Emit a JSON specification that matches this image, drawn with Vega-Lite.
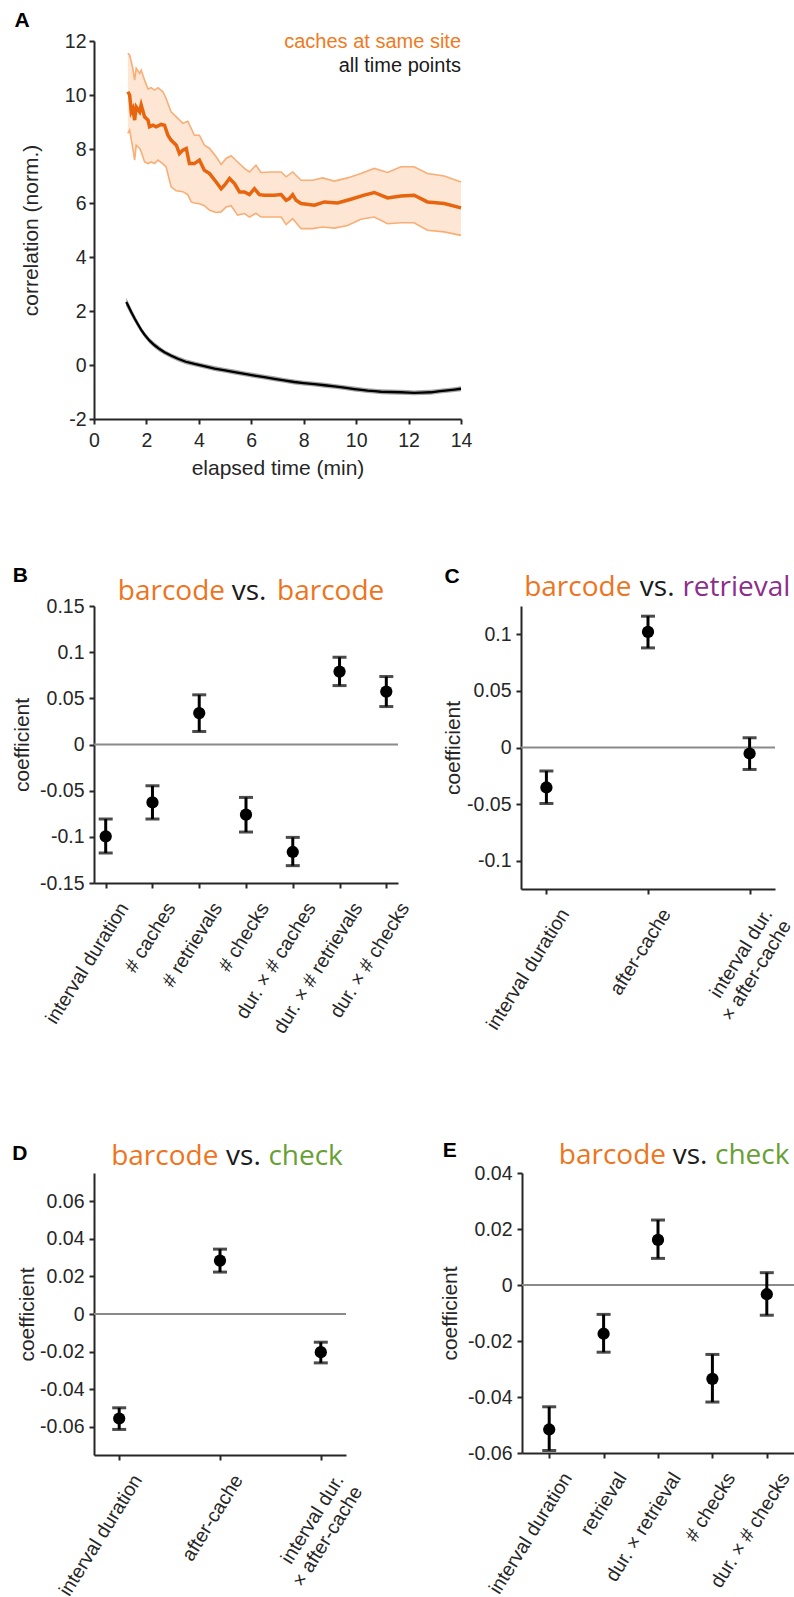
{
  "$schema": "https://vega.github.io/schema/vega-lite/v6.json",
  "background": "white",
  "padding": {"left": 11, "top": 9, "right": 0, "bottom": 0},
  "config": {
    "view": {"stroke": null},
    "axis": {
      "domainColor": "#262626", "domainWidth": 2,
      "tickColor": "#262626", "tickWidth": 2, "tickSize": 5,
      "labelColor": "#262626", "labelFont": "Liberation Sans", "labelFontSize": 19.5,
      "titleFont": "Liberation Sans", "titleFontSize": 21, "titleFontWeight": "normal", "titleColor": "#262626",
      "grid": false, "labelOverlap": false, "labelFlush": false
    },
    "text": {"font": "Liberation Sans"}
  },
  "datasets": {
    "cacheMean": [
      {"t": 1.29, "v": 10.12}, {"t": 1.36, "v": 10.0}, {"t": 1.42, "v": 9.38}, {"t": 1.48, "v": 9.5},
      {"t": 1.55, "v": 9.07}, {"t": 1.61, "v": 9.56}, {"t": 1.74, "v": 9.38}, {"t": 1.8, "v": 9.63},
      {"t": 1.93, "v": 9.19}, {"t": 2.06, "v": 9.07}, {"t": 2.12, "v": 8.82}, {"t": 2.25, "v": 8.88},
      {"t": 2.37, "v": 8.82}, {"t": 2.56, "v": 8.91}, {"t": 2.69, "v": 8.88}, {"t": 2.82, "v": 8.51},
      {"t": 2.94, "v": 8.33}, {"t": 3.14, "v": 8.14}, {"t": 3.26, "v": 7.83}, {"t": 3.39, "v": 7.96},
      {"t": 3.52, "v": 8.02}, {"t": 3.64, "v": 7.46}, {"t": 3.83, "v": 7.46}, {"t": 4.02, "v": 7.59},
      {"t": 4.21, "v": 7.21}, {"t": 4.41, "v": 7.09}, {"t": 4.66, "v": 6.78}, {"t": 4.85, "v": 6.53},
      {"t": 4.98, "v": 6.66}, {"t": 5.17, "v": 6.91}, {"t": 5.36, "v": 6.72}, {"t": 5.55, "v": 6.41},
      {"t": 5.74, "v": 6.41}, {"t": 5.93, "v": 6.31}, {"t": 6.12, "v": 6.53}, {"t": 6.31, "v": 6.31},
      {"t": 6.5, "v": 6.29}, {"t": 6.88, "v": 6.29}, {"t": 7.14, "v": 6.31}, {"t": 7.33, "v": 6.1},
      {"t": 7.45, "v": 6.16}, {"t": 7.58, "v": 6.31}, {"t": 7.71, "v": 6.1}, {"t": 7.9, "v": 5.98},
      {"t": 8.41, "v": 5.92}, {"t": 8.79, "v": 6.04}, {"t": 9.29, "v": 6.0}, {"t": 9.8, "v": 6.14},
      {"t": 10.31, "v": 6.29}, {"t": 10.69, "v": 6.39}, {"t": 11.2, "v": 6.19}, {"t": 11.71, "v": 6.26},
      {"t": 12.21, "v": 6.29}, {"t": 12.72, "v": 6.04}, {"t": 13.36, "v": 5.98}, {"t": 14.0, "v": 5.82}
    ],
    "cacheBand": [
      {"t": 1.29, "lo": 8.58, "hi": 11.54}, {"t": 1.36, "lo": 8.7, "hi": 11.48}, {"t": 1.48, "lo": 8.02, "hi": 10.99},
      {"t": 1.55, "lo": 7.59, "hi": 10.55}, {"t": 1.61, "lo": 8.14, "hi": 10.99}, {"t": 1.74, "lo": 8.02, "hi": 10.8},
      {"t": 1.8, "lo": 7.9, "hi": 10.92}, {"t": 1.93, "lo": 7.52, "hi": 10.55}, {"t": 2.06, "lo": 7.46, "hi": 10.22},
      {"t": 2.18, "lo": 7.52, "hi": 10.27}, {"t": 2.31, "lo": 7.46, "hi": 10.18}, {"t": 2.44, "lo": 7.59, "hi": 10.27},
      {"t": 2.63, "lo": 7.45, "hi": 10.12}, {"t": 2.75, "lo": 7.34, "hi": 9.87}, {"t": 2.94, "lo": 6.6, "hi": 9.38},
      {"t": 3.14, "lo": 6.45, "hi": 9.19}, {"t": 3.39, "lo": 6.42, "hi": 8.95}, {"t": 3.58, "lo": 6.3, "hi": 9.03},
      {"t": 3.71, "lo": 6.04, "hi": 8.76}, {"t": 3.83, "lo": 6.0, "hi": 8.51}, {"t": 4.02, "lo": 5.97, "hi": 8.51},
      {"t": 4.21, "lo": 5.9, "hi": 8.14}, {"t": 4.41, "lo": 5.73, "hi": 8.02}, {"t": 4.66, "lo": 5.65, "hi": 7.71},
      {"t": 4.85, "lo": 5.67, "hi": 7.43}, {"t": 5.04, "lo": 5.85, "hi": 7.65}, {"t": 5.23, "lo": 5.9, "hi": 7.75},
      {"t": 5.48, "lo": 5.55, "hi": 7.52}, {"t": 5.74, "lo": 5.61, "hi": 7.28}, {"t": 5.93, "lo": 5.48, "hi": 7.15},
      {"t": 6.18, "lo": 5.62, "hi": 7.4}, {"t": 6.37, "lo": 5.48, "hi": 7.13}, {"t": 6.75, "lo": 5.48, "hi": 7.15},
      {"t": 7.14, "lo": 5.48, "hi": 7.15}, {"t": 7.33, "lo": 5.2, "hi": 6.97}, {"t": 7.58, "lo": 5.42, "hi": 7.15},
      {"t": 7.9, "lo": 5.05, "hi": 6.84}, {"t": 8.34, "lo": 5.05, "hi": 6.84}, {"t": 8.72, "lo": 5.11, "hi": 6.93},
      {"t": 9.17, "lo": 5.07, "hi": 6.81}, {"t": 9.67, "lo": 5.17, "hi": 6.93}, {"t": 10.18, "lo": 5.4, "hi": 7.09},
      {"t": 10.69, "lo": 5.48, "hi": 7.28}, {"t": 11.2, "lo": 5.23, "hi": 7.13}, {"t": 11.71, "lo": 5.27, "hi": 7.34},
      {"t": 12.21, "lo": 5.27, "hi": 7.34}, {"t": 12.72, "lo": 4.99, "hi": 7.09}, {"t": 13.36, "lo": 4.93, "hi": 7.0},
      {"t": 14.0, "lo": 4.8, "hi": 6.78}
    ],
    "allPoints": [
      {"t": 1.23, "v": 2.33, "lo": 2.17, "hi": 2.49}, {"t": 1.3, "v": 2.2, "lo": 2.05, "hi": 2.35},
      {"t": 1.42, "v": 1.96, "lo": 1.82, "hi": 2.1}, {"t": 1.55, "v": 1.72, "lo": 1.59, "hi": 1.85},
      {"t": 1.68, "v": 1.5, "lo": 1.38, "hi": 1.62}, {"t": 1.8, "v": 1.3, "lo": 1.19, "hi": 1.41},
      {"t": 1.93, "v": 1.12, "lo": 1.02, "hi": 1.22}, {"t": 2.12, "v": 0.9, "lo": 0.8, "hi": 1.0},
      {"t": 2.31, "v": 0.73, "lo": 0.63, "hi": 0.83}, {"t": 2.5, "v": 0.59, "lo": 0.49, "hi": 0.69},
      {"t": 2.69, "v": 0.47, "lo": 0.38, "hi": 0.56}, {"t": 2.95, "v": 0.34, "lo": 0.25, "hi": 0.43},
      {"t": 3.2, "v": 0.23, "lo": 0.14, "hi": 0.32}, {"t": 3.5, "v": 0.12, "lo": 0.03, "hi": 0.21},
      {"t": 3.83, "v": 0.04, "lo": -0.05, "hi": 0.13}, {"t": 4.2, "v": -0.04, "lo": -0.13, "hi": 0.05},
      {"t": 4.6, "v": -0.13, "lo": -0.22, "hi": -0.04}, {"t": 5.0, "v": -0.2, "lo": -0.29, "hi": -0.11},
      {"t": 5.36, "v": -0.26, "lo": -0.35, "hi": -0.17}, {"t": 5.75, "v": -0.33, "lo": -0.42, "hi": -0.24},
      {"t": 6.12, "v": -0.39, "lo": -0.48, "hi": -0.3}, {"t": 6.5, "v": -0.45, "lo": -0.54, "hi": -0.36},
      {"t": 6.88, "v": -0.51, "lo": -0.6, "hi": -0.42}, {"t": 7.25, "v": -0.57, "lo": -0.66, "hi": -0.48},
      {"t": 7.64, "v": -0.63, "lo": -0.72, "hi": -0.54}, {"t": 8.0, "v": -0.67, "lo": -0.76, "hi": -0.58},
      {"t": 8.41, "v": -0.71, "lo": -0.8, "hi": -0.62}, {"t": 8.8, "v": -0.75, "lo": -0.84, "hi": -0.66},
      {"t": 9.17, "v": -0.79, "lo": -0.88, "hi": -0.7}, {"t": 9.55, "v": -0.84, "lo": -0.93, "hi": -0.75},
      {"t": 9.93, "v": -0.89, "lo": -0.98, "hi": -0.8}, {"t": 10.2, "v": -0.92, "lo": -1.01, "hi": -0.83},
      {"t": 10.44, "v": -0.95, "lo": -1.04, "hi": -0.86}, {"t": 10.7, "v": -0.97, "lo": -1.06, "hi": -0.88},
      {"t": 10.95, "v": -0.99, "lo": -1.08, "hi": -0.9}, {"t": 11.3, "v": -1.0, "lo": -1.09, "hi": -0.91},
      {"t": 11.71, "v": -1.01, "lo": -1.1, "hi": -0.92}, {"t": 12.0, "v": -1.02, "lo": -1.11, "hi": -0.93},
      {"t": 12.21, "v": -1.03, "lo": -1.12, "hi": -0.94}, {"t": 12.5, "v": -1.02, "lo": -1.11, "hi": -0.93},
      {"t": 12.85, "v": -1.01, "lo": -1.1, "hi": -0.92}, {"t": 13.2, "v": -0.97, "lo": -1.06, "hi": -0.88},
      {"t": 13.49, "v": -0.94, "lo": -1.03, "hi": -0.85}, {"t": 13.75, "v": -0.91, "lo": -1.0, "hi": -0.82},
      {"t": 14.0, "v": -0.88, "lo": -0.97, "hi": -0.79}
    ],
    "coefB": [
      {"term": "interval duration", "coef": -0.0995, "lo": -0.1175, "hi": -0.0807},
      {"term": "# caches", "coef": -0.0627, "lo": -0.0807, "hi": -0.0447},
      {"term": "# retrievals", "coef": 0.034, "lo": 0.0141, "hi": 0.0538},
      {"term": "# checks", "coef": -0.076, "lo": -0.0948, "hi": -0.0573},
      {"term": "dur. × # caches", "coef": -0.1164, "lo": -0.1312, "hi": -0.1006},
      {"term": "dur. × # retrievals", "coef": 0.079, "lo": 0.0638, "hi": 0.0945},
      {"term": "dur. × # checks", "coef": 0.0573, "lo": 0.0411, "hi": 0.0736}
    ],
    "coefC": [
      {"term": "interval duration", "coef": -0.0353, "lo": -0.0494, "hi": -0.0208},
      {"term": "after-cache", "coef": 0.1021, "lo": 0.088, "hi": 0.116},
      {"term": "interval dur.\u00a0\u00a0|× after-cache", "coef": -0.0053, "lo": -0.0194, "hi": 0.0086}
    ],
    "coefD": [
      {"term": "interval duration", "coef": -0.0556, "lo": -0.0614, "hi": -0.0499},
      {"term": "after-cache", "coef": 0.0284, "lo": 0.0223, "hi": 0.0345},
      {"term": "interval dur.\u00a0\u00a0|× after-cache", "coef": -0.0203, "lo": -0.026, "hi": -0.015}
    ],
    "coefE": [
      {"term": "interval duration", "coef": -0.0516, "lo": -0.0591, "hi": -0.0435},
      {"term": "retrieval", "coef": -0.0174, "lo": -0.024, "hi": -0.0105},
      {"term": "dur. × retrieval", "coef": 0.0161, "lo": 0.0095, "hi": 0.0232},
      {"term": "# checks", "coef": -0.0335, "lo": -0.0418, "hi": -0.0248},
      {"term": "dur. × # checks", "coef": -0.0033, "lo": -0.0108, "hi": 0.0044}
    ]
  },
  "spacing": 85,
  "vconcat": [
    {
      "width": 367,
      "height": 378,
      "layer": [
        {
          "data": {"name": "cacheBand"},
          "mark": {"type": "area", "color": "#FDE6D4", "opacity": 1},
          "encoding": {
            "x": {"field": "t", "type": "quantitative", "scale": {"domain": [0, 14], "nice": false, "zero": false},
                  "axis": {"values": [0, 2, 4, 6, 8, 10, 12, 14], "title": "elapsed time (min)", "labelPadding": 7, "titlePadding": 8}},
            "y": {"field": "lo", "type": "quantitative", "title": "correlation (norm.)",
                  "scale": {"domain": [-2, 12], "nice": false, "zero": false},
                  "axis": {"values": [-2, 0, 2, 4, 6, 8, 10, 12], "titlePadding": 23, "labelPadding": 3,
                           "labelExpr": "replace(datum.label, '−', '-')"}},
            "y2": {"field": "hi"}
          }
        },
        {
          "data": {"name": "cacheBand"},
          "mark": {"type": "line", "color": "#F8AE76", "strokeWidth": 1.6},
          "encoding": {
            "x": {"field": "t", "type": "quantitative", "title": "elapsed time (min)"},
            "y": {"field": "hi", "type": "quantitative", "title": "correlation (norm.)"}
          }
        },
        {
          "data": {"name": "cacheBand"},
          "mark": {"type": "line", "color": "#F8AE76", "strokeWidth": 1.6},
          "encoding": {
            "x": {"field": "t", "type": "quantitative", "title": "elapsed time (min)"},
            "y": {"field": "lo", "type": "quantitative", "title": "correlation (norm.)"}
          }
        },
        {
          "data": {"name": "allPoints"},
          "mark": {"type": "area", "color": "#8f8f8f", "opacity": 0.8},
          "encoding": {
            "x": {"field": "t", "type": "quantitative", "title": "elapsed time (min)"},
            "y": {"field": "lo", "type": "quantitative", "title": "correlation (norm.)"},
            "y2": {"field": "hi"}
          }
        },
        {
          "data": {"name": "allPoints"},
          "mark": {"type": "line", "color": "#000000", "strokeWidth": 2.3},
          "encoding": {
            "x": {"field": "t", "type": "quantitative", "title": "elapsed time (min)"},
            "y": {"field": "v", "type": "quantitative", "title": "correlation (norm.)"}
          }
        },
        {
          "data": {"name": "cacheMean"},
          "mark": {"type": "line", "color": "#E8650F", "strokeWidth": 3.5},
          "encoding": {
            "x": {"field": "t", "type": "quantitative", "title": "elapsed time (min)"},
            "y": {"field": "v", "type": "quantitative", "title": "correlation (norm.)"}
          }
        },
        {
          "data": {"values": [{"label": "caches at same site"}]},
          "mark": {"type": "text", "align": "right", "baseline": "alphabetic", "fontSize": 20, "color": "#F07A22", "dy": 6.7},
          "encoding": {
            "x": {"datum": 14, "type": "quantitative", "title": "elapsed time (min)"},
            "y": {"datum": 12, "type": "quantitative", "title": "correlation (norm.)"},
            "text": {"field": "label"}
          }
        },
        {
          "data": {"values": [{"label": "all time points"}]},
          "mark": {"type": "text", "align": "right", "baseline": "alphabetic", "fontSize": 20, "color": "#1a1a1a", "dy": 30.7},
          "encoding": {
            "x": {"datum": 14, "type": "quantitative", "title": "elapsed time (min)"},
            "y": {"datum": 12, "type": "quantitative", "title": "correlation (norm.)"},
            "text": {"field": "label"}
          }
        },
        {
          "data": {"values": [{"label": "A"}]},
          "mark": {"type": "text", "align": "left", "baseline": "alphabetic", "fontSize": 21, "fontWeight": "bold", "color": "#000000", "dx": -79.4, "dy": -14.3},
          "encoding": {
            "x": {"datum": 0, "type": "quantitative", "title": "elapsed time (min)"},
            "y": {"datum": 12, "type": "quantitative", "title": "correlation (norm.)"},
            "text": {"field": "label"}
          }
        }
      ]
    },
    {
      "spacing": 103,
      "vconcat": [
        {
          "spacing": 29,
          "hconcat": [
            {
              "width": 304,
              "height": 277,
              "layer": [
                {
                  "data": {"values": [{"level": 0}]},
                  "mark": {"type": "rule", "color": "#8a8a8a", "strokeWidth": 1.8},
                  "encoding": {"y": {"field": "level", "type": "quantitative", "title": "coefficient"}}
                },
                {
                  "data": {"name": "coefB"},
                  "mark": {"type": "rule", "color": "#000000", "strokeWidth": 3},
                  "encoding": {
                    "x": {"field": "term", "type": "nominal",
                          "scale": {"type": "point", "padding": 0.25, "domain": ["interval duration", "# caches", "# retrievals", "# checks", "dur. × # caches", "dur. × # retrievals", "dur. × # checks"]},
                          "axis": {"title": null, "labelAngle": -58, "labelAlign": "right", "labelBaseline": "middle", "labelOffset": 18, "labelPadding": 16, "labelLimit": 400, "labelExpr": "split(datum.label, '|')", "labelLineHeight": 22}},
                    "y": {"field": "lo", "type": "quantitative", "title": "coefficient",
                          "scale": {"domain": [-0.15, 0.15], "nice": false, "zero": false},
                          "axis": {"values": [-0.15, -0.1, -0.05, 0, 0.05, 0.1, 0.15], "labelExpr": "replace(format(datum.value, '.2~f'), '−', '-')", "titlePadding": 7, "labelPadding": 5}},
                    "y2": {"field": "hi"}
                  }
                },
                {
                  "data": {"name": "coefB"},
                  "mark": {"type": "tick", "color": "#000000", "thickness": 3, "size": 14},
                  "encoding": {"x": {"field": "term", "type": "nominal"}, "y": {"field": "lo", "type": "quantitative", "title": "coefficient"}}
                },
                {
                  "data": {"name": "coefB"},
                  "mark": {"type": "tick", "color": "#000000", "thickness": 3, "size": 14},
                  "encoding": {"x": {"field": "term", "type": "nominal"}, "y": {"field": "hi", "type": "quantitative", "title": "coefficient"}}
                },
                {
                  "data": {"name": "coefB"},
                  "mark": {"type": "circle", "color": "#000000", "size": 150, "opacity": 1},
                  "encoding": {"x": {"field": "term", "type": "nominal"}, "y": {"field": "coef", "type": "quantitative", "title": "coefficient"}}
                },
                {
                  "data": {"values": [{"label": "barcode"}]},
                  "mark": {"type": "text", "font": "Open Sans", "fontSize": 28, "color": "#EE7420", "align": "right", "baseline": "alphabetic", "dx": -21, "dy": -6},
                  "encoding": {"x": {"datum": "# checks"}, "y": {"datum": 0.15, "type": "quantitative", "title": "coefficient"}, "text": {"field": "label"}}
                },
                {
                  "data": {"values": [{"label": "vs."}]},
                  "mark": {"type": "text", "font": "Open Sans", "fontSize": 28, "color": "#1a1a1a", "align": "center", "baseline": "alphabetic", "dx": 3, "dy": -6},
                  "encoding": {"x": {"datum": "# checks"}, "y": {"datum": 0.15, "type": "quantitative", "title": "coefficient"}, "text": {"field": "label"}}
                },
                {
                  "data": {"values": [{"label": "barcode"}]},
                  "mark": {"type": "text", "font": "Open Sans", "fontSize": 28, "color": "#EE7420", "align": "left", "baseline": "alphabetic", "dx": 31, "dy": -6},
                  "encoding": {"x": {"datum": "# checks"}, "y": {"datum": 0.15, "type": "quantitative", "title": "coefficient"}, "text": {"field": "label"}}
                },
                {
                  "data": {"values": [{"label": "B"}]},
                  "mark": {"type": "text", "fontSize": 21, "fontWeight": "bold", "color": "#000000", "align": "left", "baseline": "alphabetic", "dx": -93, "dy": -24.3},
                  "encoding": {"x": {"datum": "interval duration"}, "y": {"datum": 0.15, "type": "quantitative", "title": "coefficient"}, "text": {"field": "label"}}
                }
              ]
            },
            {
              "width": 254,
              "height": 283,
              "layer": [
                {
                  "data": {"values": [{"level": 0}]},
                  "mark": {"type": "rule", "color": "#8a8a8a", "strokeWidth": 1.8},
                  "encoding": {"y": {"field": "level", "type": "quantitative", "title": "coefficient"}}
                },
                {
                  "data": {"name": "coefC"},
                  "mark": {"type": "rule", "color": "#000000", "strokeWidth": 3},
                  "encoding": {
                    "x": {"field": "term", "type": "nominal",
                          "scale": {"type": "point", "padding": 0.25, "domain": ["interval duration", "after-cache", "interval dur.\u00a0\u00a0|× after-cache"]},
                          "axis": {"title": null, "labelAngle": -58, "labelAlign": "right", "labelBaseline": "middle", "labelOffset": 18, "labelPadding": 16, "labelLimit": 400, "labelExpr": "split(datum.label, '|')", "labelLineHeight": 22}},
                    "y": {"field": "lo", "type": "quantitative", "title": "coefficient",
                          "scale": {"domain": [-0.125, 0.125], "nice": false, "zero": false},
                          "axis": {"values": [-0.1, -0.05, 0, 0.05, 0.1], "labelExpr": "replace(format(datum.value, '.2~f'), '−', '-')", "titlePadding": 3, "labelPadding": 5}},
                    "y2": {"field": "hi"}
                  }
                },
                {
                  "data": {"name": "coefC"},
                  "mark": {"type": "tick", "color": "#000000", "thickness": 3, "size": 14},
                  "encoding": {"x": {"field": "term", "type": "nominal"}, "y": {"field": "lo", "type": "quantitative", "title": "coefficient"}}
                },
                {
                  "data": {"name": "coefC"},
                  "mark": {"type": "tick", "color": "#000000", "thickness": 3, "size": 14},
                  "encoding": {"x": {"field": "term", "type": "nominal"}, "y": {"field": "hi", "type": "quantitative", "title": "coefficient"}}
                },
                {
                  "data": {"name": "coefC"},
                  "mark": {"type": "circle", "color": "#000000", "size": 150, "opacity": 1},
                  "encoding": {"x": {"field": "term", "type": "nominal"}, "y": {"field": "coef", "type": "quantitative", "title": "coefficient"}}
                },
                {
                  "data": {"values": [{"label": "barcode"}]},
                  "mark": {"type": "text", "font": "Open Sans", "fontSize": 28, "color": "#EE7420", "align": "right", "baseline": "alphabetic", "dx": -16.6, "dy": -10},
                  "encoding": {"x": {"datum": "after-cache"}, "y": {"datum": 0.125, "type": "quantitative", "title": "coefficient"}, "text": {"field": "label"}}
                },
                {
                  "data": {"values": [{"label": "vs."}]},
                  "mark": {"type": "text", "font": "Open Sans", "fontSize": 28, "color": "#1a1a1a", "align": "center", "baseline": "alphabetic", "dx": 9.2, "dy": -10},
                  "encoding": {"x": {"datum": "after-cache"}, "y": {"datum": 0.125, "type": "quantitative", "title": "coefficient"}, "text": {"field": "label"}}
                },
                {
                  "data": {"values": [{"label": "retrieval"}]},
                  "mark": {"type": "text", "font": "Open Sans", "fontSize": 28, "color": "#8C2E8C", "align": "left", "baseline": "alphabetic", "dx": 34.4, "dy": -10},
                  "encoding": {"x": {"datum": "after-cache"}, "y": {"datum": 0.125, "type": "quantitative", "title": "coefficient"}, "text": {"field": "label"}}
                },
                {
                  "data": {"values": [{"label": "C"}]},
                  "mark": {"type": "text", "fontSize": 21, "fontWeight": "bold", "color": "#000000", "align": "left", "baseline": "alphabetic", "dx": -102, "dy": -23.3},
                  "encoding": {"x": {"datum": "interval duration"}, "y": {"datum": 0.125, "type": "quantitative", "title": "coefficient"}, "text": {"field": "label"}}
                }
              ]
            }
          ]
        },
        {
          "spacing": 73,
          "hconcat": [
            {
              "width": 252,
              "height": 282,
              "layer": [
                {
                  "data": {"values": [{"level": 0}]},
                  "mark": {"type": "rule", "color": "#8a8a8a", "strokeWidth": 1.8},
                  "encoding": {"y": {"field": "level", "type": "quantitative", "title": "coefficient"}}
                },
                {
                  "data": {"name": "coefD"},
                  "mark": {"type": "rule", "color": "#000000", "strokeWidth": 3},
                  "encoding": {
                    "x": {"field": "term", "type": "nominal",
                          "scale": {"type": "point", "padding": 0.25, "domain": ["interval duration", "after-cache", "interval dur.\u00a0\u00a0|× after-cache"]},
                          "axis": {"title": null, "labelAngle": -58, "labelAlign": "right", "labelBaseline": "middle", "labelOffset": 18, "labelPadding": 16, "labelLimit": 400, "labelExpr": "split(datum.label, '|')", "labelLineHeight": 22}},
                    "y": {"field": "lo", "type": "quantitative", "title": "coefficient",
                          "scale": {"domain": [-0.075, 0.075], "nice": false, "zero": false},
                          "axis": {"values": [-0.06, -0.04, -0.02, 0, 0.02, 0.04, 0.06], "labelExpr": "replace(format(datum.value, '.2~f'), '−', '-')", "titlePadding": 2, "labelPadding": 5}},
                    "y2": {"field": "hi"}
                  }
                },
                {
                  "data": {"name": "coefD"},
                  "mark": {"type": "tick", "color": "#000000", "thickness": 3, "size": 14},
                  "encoding": {"x": {"field": "term", "type": "nominal"}, "y": {"field": "lo", "type": "quantitative", "title": "coefficient"}}
                },
                {
                  "data": {"name": "coefD"},
                  "mark": {"type": "tick", "color": "#000000", "thickness": 3, "size": 14},
                  "encoding": {"x": {"field": "term", "type": "nominal"}, "y": {"field": "hi", "type": "quantitative", "title": "coefficient"}}
                },
                {
                  "data": {"name": "coefD"},
                  "mark": {"type": "circle", "color": "#000000", "size": 150, "opacity": 1},
                  "encoding": {"x": {"field": "term", "type": "nominal"}, "y": {"field": "coef", "type": "quantitative", "title": "coefficient"}}
                },
                {
                  "data": {"values": [{"label": "barcode"}]},
                  "mark": {"type": "text", "font": "Open Sans", "fontSize": 28, "color": "#EE7420", "align": "right", "baseline": "alphabetic", "dx": -1.6, "dy": -8.4},
                  "encoding": {"x": {"datum": "after-cache"}, "y": {"datum": 0.075, "type": "quantitative", "title": "coefficient"}, "text": {"field": "label"}}
                },
                {
                  "data": {"values": [{"label": "vs."}]},
                  "mark": {"type": "text", "font": "Open Sans", "fontSize": 28, "color": "#1a1a1a", "align": "center", "baseline": "alphabetic", "dx": 23.4, "dy": -8.4},
                  "encoding": {"x": {"datum": "after-cache"}, "y": {"datum": 0.075, "type": "quantitative", "title": "coefficient"}, "text": {"field": "label"}}
                },
                {
                  "data": {"values": [{"label": "check"}]},
                  "mark": {"type": "text", "font": "Open Sans", "fontSize": 28, "color": "#68A036", "align": "left", "baseline": "alphabetic", "dx": 48.4, "dy": -8.4},
                  "encoding": {"x": {"datum": "after-cache"}, "y": {"datum": 0.075, "type": "quantitative", "title": "coefficient"}, "text": {"field": "label"}}
                },
                {
                  "data": {"values": [{"label": "D"}]},
                  "mark": {"type": "text", "fontSize": 21, "fontWeight": "bold", "color": "#000000", "align": "left", "baseline": "alphabetic", "dx": -107, "dy": -13.4},
                  "encoding": {"x": {"datum": "interval duration"}, "y": {"datum": 0.075, "type": "quantitative", "title": "coefficient"}, "text": {"field": "label"}}
                }
              ]
            },
            {
              "width": 272,
              "height": 280,
              "layer": [
                {
                  "data": {"values": [{"level": 0}]},
                  "mark": {"type": "rule", "color": "#8a8a8a", "strokeWidth": 1.8},
                  "encoding": {"y": {"field": "level", "type": "quantitative", "title": "coefficient"}}
                },
                {
                  "data": {"name": "coefE"},
                  "mark": {"type": "rule", "color": "#000000", "strokeWidth": 3},
                  "encoding": {
                    "x": {"field": "term", "type": "nominal",
                          "scale": {"type": "point", "padding": 0.5, "domain": ["interval duration", "retrieval", "dur. × retrieval", "# checks", "dur. × # checks"]},
                          "axis": {"title": null, "labelAngle": -58, "labelAlign": "right", "labelBaseline": "middle", "labelOffset": 18, "labelPadding": 16, "labelLimit": 400, "labelExpr": "split(datum.label, '|')", "labelLineHeight": 22}},
                    "y": {"field": "lo", "type": "quantitative", "title": "coefficient",
                          "scale": {"domain": [-0.06, 0.04], "nice": false, "zero": false},
                          "axis": {"values": [-0.06, -0.04, -0.02, 0, 0.02, 0.04], "labelExpr": "replace(format(datum.value, '.2~f'), '−', '-')", "titlePadding": 7, "labelPadding": 5}},
                    "y2": {"field": "hi"}
                  }
                },
                {
                  "data": {"name": "coefE"},
                  "mark": {"type": "tick", "color": "#000000", "thickness": 3, "size": 14},
                  "encoding": {"x": {"field": "term", "type": "nominal"}, "y": {"field": "lo", "type": "quantitative", "title": "coefficient"}}
                },
                {
                  "data": {"name": "coefE"},
                  "mark": {"type": "tick", "color": "#000000", "thickness": 3, "size": 14},
                  "encoding": {"x": {"field": "term", "type": "nominal"}, "y": {"field": "hi", "type": "quantitative", "title": "coefficient"}}
                },
                {
                  "data": {"name": "coefE"},
                  "mark": {"type": "circle", "color": "#000000", "size": 150, "opacity": 1},
                  "encoding": {"x": {"field": "term", "type": "nominal"}, "y": {"field": "coef", "type": "quantitative", "title": "coefficient"}}
                },
                {
                  "data": {"values": [{"label": "barcode"}]},
                  "mark": {"type": "text", "font": "Open Sans", "fontSize": 28, "color": "#EE7420", "align": "right", "baseline": "alphabetic", "dx": 8, "dy": -9.3},
                  "encoding": {"x": {"datum": "dur. × retrieval"}, "y": {"datum": 0.04, "type": "quantitative", "title": "coefficient"}, "text": {"field": "label"}}
                },
                {
                  "data": {"values": [{"label": "vs."}]},
                  "mark": {"type": "text", "font": "Open Sans", "fontSize": 28, "color": "#1a1a1a", "align": "center", "baseline": "alphabetic", "dx": 32, "dy": -9.3},
                  "encoding": {"x": {"datum": "dur. × retrieval"}, "y": {"datum": 0.04, "type": "quantitative", "title": "coefficient"}, "text": {"field": "label"}}
                },
                {
                  "data": {"values": [{"label": "check"}]},
                  "mark": {"type": "text", "font": "Open Sans", "fontSize": 28, "color": "#68A036", "align": "left", "baseline": "alphabetic", "dx": 57, "dy": -9.3},
                  "encoding": {"x": {"datum": "dur. × retrieval"}, "y": {"datum": 0.04, "type": "quantitative", "title": "coefficient"}, "text": {"field": "label"}}
                },
                {
                  "data": {"values": [{"label": "E"}]},
                  "mark": {"type": "text", "fontSize": 21, "fontWeight": "bold", "color": "#000000", "align": "left", "baseline": "alphabetic", "dx": -106.5, "dy": -16},
                  "encoding": {"x": {"datum": "interval duration"}, "y": {"datum": 0.04, "type": "quantitative", "title": "coefficient"}, "text": {"field": "label"}}
                }
              ]
            }
          ]
        }
      ]
    }
  ]
}
